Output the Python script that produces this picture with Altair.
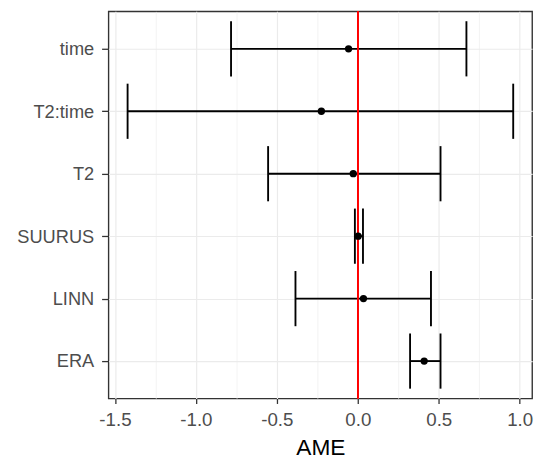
import altair as alt
import pandas as pd

terms = ["time", "T2:time", "T2", "SUURUS", "LINN", "ERA"]
ame = [-0.057, -0.225, -0.028, 0.002, 0.035, 0.410]
lower = [-0.783, -1.422, -0.554, -0.018, -0.385, 0.323]
upper = [0.671, 0.960, 0.511, 0.032, 0.452, 0.511]
axis_ticks = [-1.5, -1.25, -1.0, -0.75, -0.5, -0.25, 0.0, 0.25, 0.5, 0.75, 1.0]

df = pd.DataFrame({"term": terms, "AME": ame, "lower": lower, "upper": upper})

FONT = "Liberation Sans"
MINOR = "abs(datum.value*2 - round(datum.value*2)) > 0.01"
xscale = alt.Scale(domain=[-1.540, 1.077], nice=False, zero=False)
yscale = alt.Scale(type="point", padding=0.6)

x_axis = alt.Axis(values=axis_ticks, title="AME", grid=True,
                  labelExpr=f"{MINOR} ? '' : replace(format(datum.value, '.1f'), '\u2212', '-')",
                  gridColor="#EBEBEB",
                  gridWidth={"condition": {"test": MINOR, "value": 0.6}, "value": 1.2},
                  tickOpacity={"condition": {"test": MINOR, "value": 0}, "value": 1},
                  domain=False,
                  tickColor="#333333", tickSize=5, tickWidth=1.3,
                  labelColor="#4D4D4D", labelFont=FONT, labelFontSize=19,
                  labelPadding=7, titleFont=FONT, titleFontSize=23,
                  titleFontWeight="normal", titleColor="#000000", titlePadding=8,
                  labelFlush=False, labelOverlap=False)
y_axis = alt.Axis(title=None, grid=True, gridColor="#EBEBEB", gridWidth=1.2,
                  domain=False, tickColor="#333333", tickSize=7, tickWidth=1.3,
                  labelColor="#4D4D4D", labelFont=FONT, labelFontSize=18.5,
                  labelPadding=8)

base = alt.Chart(df)

bars = base.mark_rule(color="black", strokeWidth=1.9, opacity=1).encode(
    x=alt.X("lower:Q", scale=xscale, axis=x_axis),
    x2="upper:Q",
    y=alt.Y("term:N", sort=terms, scale=yscale, axis=y_axis),
)
caps_lo = base.mark_tick(color="black", thickness=1.9, size=56, opacity=1).encode(
    x=alt.X("lower:Q", scale=xscale), y=alt.Y("term:N", sort=terms, scale=yscale))
caps_hi = base.mark_tick(color="black", thickness=1.9, size=56, opacity=1).encode(
    x=alt.X("upper:Q", scale=xscale), y=alt.Y("term:N", sort=terms, scale=yscale))
zero = base.mark_rule(color="#FF0000", strokeWidth=1.3).encode(x=alt.datum(0))
points = base.mark_point(filled=True, color="black", size=55, opacity=1).encode(
    x=alt.X("AME:Q", scale=xscale), y=alt.Y("term:N", sort=terms, scale=yscale))

chart = alt.layer(bars, caps_lo, caps_hi, zero, points).properties(
    width=430, height=393,
    autosize=alt.AutoSizeParams(type="none"),
    padding={"left": 102, "top": 0, "right": 10, "bottom": 60},
).configure_view(stroke="#333333", strokeWidth=1.4)

chart.save("out.html", embed_options={"renderer": "svg", "actions": False})
